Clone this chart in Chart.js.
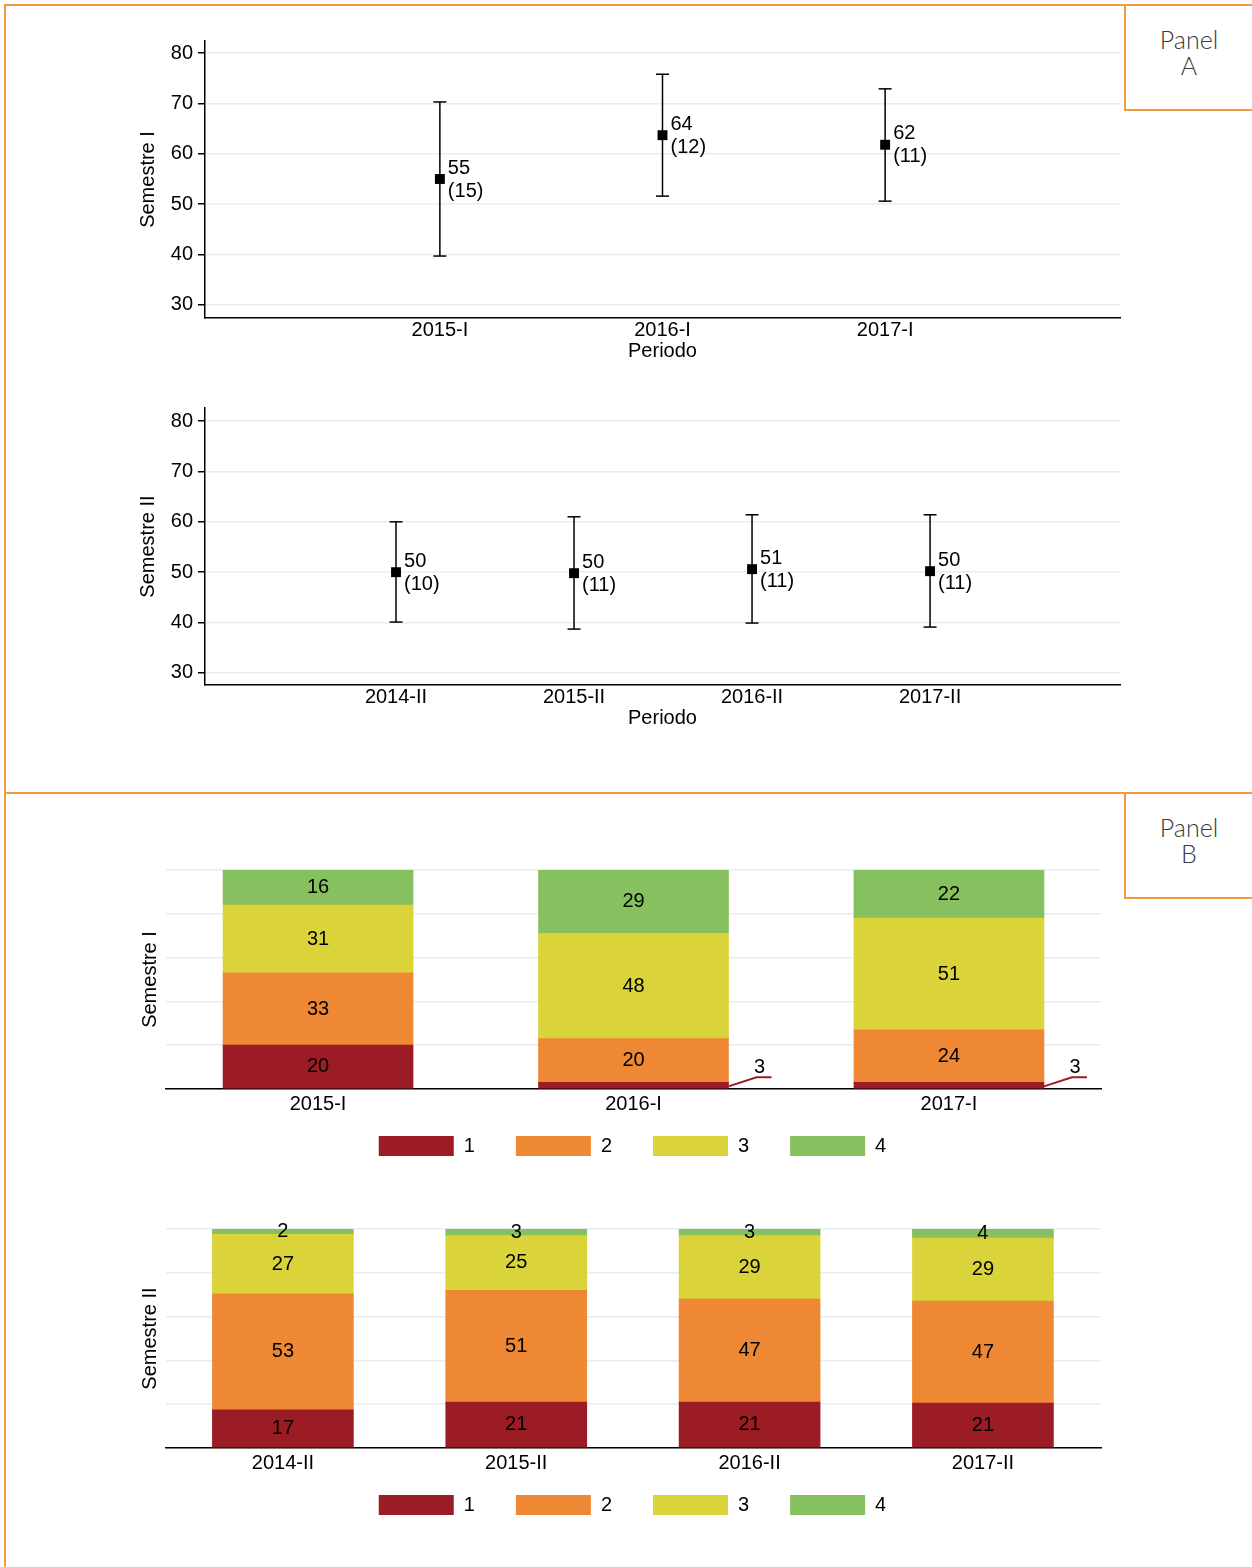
<!DOCTYPE html>
<html>
<head>
<meta charset="utf-8">
<script src="https://cdn.jsdelivr.net/npm/chart.js@4.4.1/dist/chart.umd.min.js"></script>
<style>
  html, body { margin: 0; padding: 0; background: #fff; }
  body { position: relative; width: 1252px; height: 1567px; overflow: hidden; }
  .rule { position: absolute; background: #f29b3e; }
  .panelLabel { position: absolute; left: 1126px; width: 126px; text-align: center;
    font-family: Lato, 'Open Sans', sans-serif; font-weight: 300; font-size: 25px;
    line-height: 26px; color: #3a3a3a; }
  .box { position: absolute; }
</style>
</head>
<body>
<div class="rule" style="left:4px; top:4px; width:1248px; height:2px;"></div>
<div class="rule" style="left:4px; top:4px; width:2px; height:1563px;"></div>
<div class="rule" style="left:5px; top:792px; width:1247px; height:2px;"></div>
<div class="rule" style="left:1124px; top:5px; width:2px; height:106px;"></div>
<div class="rule" style="left:1124px; top:109px; width:128px; height:2px;"></div>
<div class="rule" style="left:1124px; top:793px; width:2px; height:106px;"></div>
<div class="rule" style="left:1124px; top:897px; width:128px; height:2px;"></div>
<div class="panelLabel" style="top:26px;">Panel<br>A</div>
<div class="panelLabel" style="top:814px;">Panel<br>B</div>

<div class="box" style="left:130px; top:31px;"><canvas id="chartA1" width="1010" height="335"></canvas></div>
<div class="box" style="left:130px; top:398px;"><canvas id="chartA2" width="1010" height="335"></canvas></div>
<div class="box" style="left:120px; top:860px;"><canvas id="chartB1" width="1025" height="306"></canvas></div>
<div class="box" style="left:120px; top:1219px;"><canvas id="chartB2" width="1025" height="306"></canvas></div>

<script>
// Panel A: promedio y dispersión por periodo
const periodsI = ['2015-I', '2016-I', '2017-I'];
const meanI = [55.0, 63.7, 61.8];
const lowI = [39.7, 51.6, 50.6];
const highI = [70.3, 75.8, 72.9];
const sdI = [15, 12, 11];

const periodsII = ['2014-II', '2015-II', '2016-II', '2017-II'];
const meanII = [50.0, 49.8, 50.6, 50.2];
const lowII = [40.1, 38.7, 39.9, 39.1];
const highII = [60.0, 61.0, 61.4, 61.4];
const sdII = [10, 11, 11, 11];

const scoreTicks = [30, 40, 50, 60, 70, 80];

// Panel B: distribución por nivel (%)
const levels = ['1', '2', '3', '4'];
const levelColors = ['#9b1c25', '#ee8834', '#dad43a', '#87c05f'];
const level1I = [20, 3, 3];
const level2I = [33, 20, 24];
const level3I = [31, 48, 51];
const level4I = [16, 29, 22];
const level1II = [17.4, 21, 21, 20.5];
const level2II = [53.0, 51, 47, 46.6];
const level3II = [27.2, 25, 29, 28.8];
const level4II = [2.4, 3, 3, 4.1];

const fontFamily = "'Liberation Sans', Arial, Helvetica, sans-serif";
const font20 = { family: fontFamily, size: 20 };
const gridColor = '#e6edf2';

const meanLabelPlugin = {
    id: 'meanLabels',
    afterDatasetsDraw(chart, args, opts) {
        const ctx = chart.ctx;
        const meta = chart.getDatasetMeta(0);
        ctx.save();
        ctx.fillStyle = '#000';
        ctx.font = '20px ' + fontFamily;
        ctx.textAlign = 'left';
        ctx.textBaseline = 'middle';
        meta.data.forEach((pt, i) => {
            ctx.fillText(String(Math.round(opts.means[i])), pt.x + 8, pt.y - 11);
            ctx.fillText('(' + opts.sds[i] + ')', pt.x + 8, pt.y + 12);
        });
        ctx.restore();
    }
};

const segLabelPlugin = {
    id: 'segLabels',
    afterDatasetsDraw(chart, args, opts) {
        const ctx = chart.ctx;
        ctx.save();
        ctx.font = '20px ' + fontFamily;
        ctx.textAlign = 'center';
        ctx.textBaseline = 'middle';
        chart.data.datasets.forEach((ds, k) => {
            const meta = chart.getDatasetMeta(k);
            meta.data.forEach((bar, j) => {
                const v = ds.data[j].y;
                const p = bar.getProps(['x', 'y', 'base', 'width'], true);
                const midY = (p.y + p.base) / 2;
                if (opts.leader && v < 5) {
                    const rx = p.x + p.width / 2;
                    ctx.strokeStyle = ds.backgroundColor;
                    ctx.lineWidth = 2;
                    ctx.beginPath();
                    ctx.moveTo(rx, midY + 1);
                    ctx.lineTo(rx + 28, midY - 8);
                    ctx.lineTo(rx + 43, midY - 8);
                    ctx.stroke();
                    ctx.fillStyle = '#000';
                    ctx.fillText(String(Math.round(v)), rx + 31, midY - 18);
                } else {
                    ctx.fillStyle = '#000';
                    ctx.fillText(String(Math.round(v)), p.x, midY);
                }
            });
        });
        ctx.restore();
    }
};

function scoreChart(id, periods, means, lows, highs, sds, title, yMin, yMax, xMin, xMax) {
    const whiskers = lows.map((lo, i) => ({
        data: [{ x: i + 1, y: lo }, { x: i + 1, y: highs[i] }],
        showLine: true, borderColor: '#000', borderWidth: 1.5,
        pointStyle: 'line', pointRadius: 6.5, pointBorderColor: '#000', pointBorderWidth: 1.5
    }));
    new Chart(document.getElementById(id), {
        type: 'scatter',
        data: {
            datasets: [{
                data: means.map((m, i) => ({ x: i + 1, y: m })),
                pointStyle: 'rect', pointRadius: 7, backgroundColor: '#000', borderWidth: 0
            }].concat(whiskers)
        },
        options: {
            responsive: false, animation: false,
            layout: { padding: { top: 10, right: 20, bottom: 0, left: 0 } },
            plugins: { legend: { display: false }, tooltip: { enabled: false }, meanLabels: { means: means, sds: sds } },
            scales: {
                x: {
                    type: 'linear', min: xMin, max: xMax,
                    afterBuildTicks: s => { s.ticks = periods.map((p, i) => ({ value: i + 1 })); },
                    afterFit: s => { s.height = 48; s.paddingLeft = 0; s.paddingRight = 0; },
                    grid: { display: false, drawTicks: false },
                    border: { display: true, color: '#000', width: 1.5 },
                    ticks: { color: '#000', font: font20, padding: 0, maxRotation: 0, autoSkip: false, callback: v => periods[v - 1] },
                    title: { display: true, text: 'Periodo', color: '#000', font: font20, padding: { top: 0, bottom: 3 } }
                },
                y: {
                    min: yMin, max: yMax,
                    afterBuildTicks: s => { s.ticks = scoreTicks.map(v => ({ value: v })); },
                    afterFit: s => { s.width = 75; s.paddingTop = 0; s.paddingBottom = 0; },
                    grid: { color: gridColor, lineWidth: 1.5, tickColor: '#000', tickLength: 7, tickWidth: 1.5 },
                    border: { display: true, color: '#000', width: 1.5 },
                    ticks: { color: '#000', font: font20, padding: 5 },
                    title: { display: true, text: title, color: '#000', font: font20, padding: { top: 6, bottom: 0 } }
                }
            }
        },
        plugins: [meanLabelPlugin]
    });
}

function shareChart(id, periods, series, title, xMin, xMax, barPx, leader) {
    new Chart(document.getElementById(id), {
        type: 'bar',
        data: {
            datasets: levels.map((lv, k) => ({
                label: lv,
                data: series[k].map((v, i) => ({ x: i + 1, y: v })),
                backgroundColor: levelColors[k],
                borderWidth: 0, barThickness: barPx
            }))
        },
        options: {
            responsive: false, animation: false,
            layout: { padding: { top: 10, right: 0, bottom: 0, left: 0 } },
            plugins: {
                tooltip: { enabled: false },
                legend: {
                    position: 'bottom',
                    labels: { boxWidth: 75, boxHeight: 20, padding: 41, color: '#000', font: font20 }
                },
                segLabels: { leader: leader }
            },
            scales: {
                x: {
                    type: 'linear', position: { y: 0 }, stacked: true, min: xMin, max: xMax, offset: false,
                    afterBuildTicks: s => { s.ticks = periods.map((p, i) => ({ value: i + 1 })); },
                    afterFit: s => { s.height = 0; s.paddingLeft = 0; s.paddingRight = 0; },
                    grid: { display: false, drawTicks: false, offset: false },
                    border: { display: true, color: '#000', width: 1.5 },
                    ticks: { color: '#000', font: font20, padding: 3, maxRotation: 0, autoSkip: false, callback: v => periods[v - 1] }
                },
                xPad: {
                    axis: 'x', position: 'bottom', display: true,
                    afterFit: s => { s.height = 6; s.paddingLeft = 0; s.paddingRight = 0; },
                    ticks: { display: false },
                    grid: { display: false, drawTicks: false },
                    border: { display: false }
                },
                y: {
                    stacked: true, min: 0, max: 100,
                    afterFit: s => { s.width = 46; s.paddingTop = 0; s.paddingBottom = 0; },
                    ticks: { display: false, stepSize: 20 },
                    grid: { color: gridColor, lineWidth: 1.5, drawTicks: false },
                    border: { display: false },
                    title: { display: true, text: title, color: '#000', font: font20, padding: { top: 18, bottom: 0 } }
                },
                yPad: {
                    position: 'right', display: true,
                    afterFit: s => { s.width = 44; s.paddingTop = 0; s.paddingBottom = 0; },
                    ticks: { display: false },
                    grid: { display: false, drawTicks: false },
                    border: { display: false }
                }
            }
        },
        plugins: [segLabelPlugin]
    });
}

scoreChart('chartA1', periodsI, meanI, lowI, highI, sdI, 'Semestre I', 27.4, 82.4, -0.055, 4.055);
scoreChart('chartA2', periodsII, meanII, lowII, highII, sdII, 'Semestre II', 27.6, 82.6, -0.073, 5.067);
shareChart('chartB1', periodsI, [level1I, level2I, level3I, level4I], 'Semestre I', 0.518, 3.482, 190, true);
shareChart('chartB2', periodsII, [level1II, level2II, level3II, level4II], 'Semestre II', 0.499, 4.506, 141, false);
</script>
</body>
</html>
